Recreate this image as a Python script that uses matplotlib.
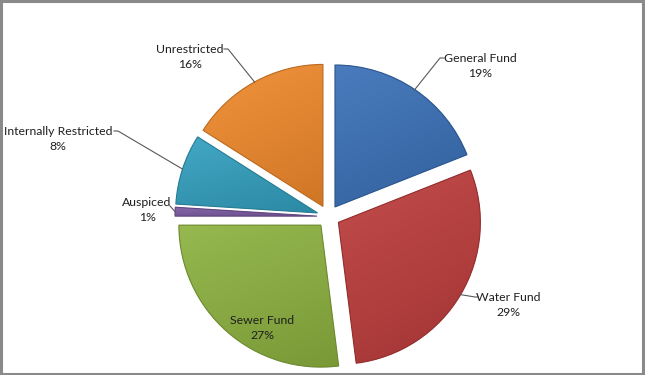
import numpy as np
import matplotlib
matplotlib.use("Agg")
import matplotlib.pyplot as plt
from matplotlib.colors import to_rgb
from matplotlib.patches import Rectangle, Wedge

categories = ["General Fund", "Water Fund", "Sewer Fund", "Auspiced",
              "Internally Restricted", "Unrestricted"]
values = [19, 29, 27, 1, 8, 16]
pct_labels = ["19%", "29%", "27%", "1%", "8%", "16%"]
colors = ["#3a70b7", "#bd3d3c", "#8db240", "#7c5ba3", "#33a0bf", "#f18a2c"]

plt.rcParams['font.family'] = ['Lato', 'DejaVu Sans']

W, H = 645, 375
fig = plt.figure(figsize=(W / 100, H / 100), dpi=100)
ax = fig.add_axes([0, 0, 1, 1])

cx, cy = 328.5, H - 216.5
R = 142
EXPL = 11.5
wedges, _ = ax.pie(values, colors=colors, startangle=90, counterclock=False,
                   explode=[EXPL] * len(values), radius=R, center=(cx, cy),
                   wedgeprops=dict(linewidth=0))
ax.set_xlim(0, W)
ax.set_ylim(0, H)
ax.set_aspect('equal')
ax.axis('off')


def mix(c, t, f):
    c = np.array(to_rgb(c))
    return np.clip(c * (1 - f) + np.array(t) * f, 0, 1)


inv = ax.transData.inverted()
for w, col in zip(wedges, colors):
    bb = w.get_path().get_extents(w.get_transform())
    (x0, y0), (x1, y1) = inv.transform([[bb.x0, bb.y0], [bb.x1, bb.y1]])
    n = 64
    gx, gy = np.meshgrid(np.linspace(0, 1, n), np.linspace(0, 1, n))
    t = (0.6 * gx + 1.4 * gy) / 2
    light = mix(col, (1, 1, 1), 0.08)
    dark = mix(col, (0, 0, 0), 0.14)
    img = light[None, None, :] * (1 - t[..., None]) + dark[None, None, :] * t[..., None]
    im = ax.imshow(img, extent=(x0, x1, y0, y1), origin='upper', zorder=1.5,
                   interpolation='bilinear')
    im.set_clip_path(w)
    w.set_zorder(1)
    e = Wedge(w.center, w.r, w.theta1, w.theta2, facecolor='none',
              edgecolor=mix(col, (0, 0, 0), 0.22), linewidth=0.8, zorder=2)
    ax.add_patch(e)

label_pos = {
    "General Fund": (480, 66),
    "Water Fund": (508, 305),
    "Sewer Fund": (262, 328),
    "Auspiced": (147, 210),
    "Internally Restricted": (58, 139),
    "Unrestricted": (190, 57),
}
leader_end = {
    "General Fund": (440, 58),
    "Water Fund": (475, 297),
    "Auspiced": (170, 206),
    "Internally Restricted": (118, 131),
    "Unrestricted": (228, 49),
}
hook = {
    "General Fund": 444,
    "Water Fund": 478,
    "Internally Restricted": 114,
    "Unrestricted": 224,
}

for w, cat, pct in zip(wedges, categories, pct_labels):
    mid = np.deg2rad((w.theta1 + w.theta2) / 2)
    ax_pt = (w.center[0] + w.r * np.cos(mid), w.center[1] + w.r * np.sin(mid))
    tx, ty = label_pos[cat]
    ax.text(tx, H - ty, f"{cat}\n{pct}", ha='center', va='center',
            fontsize=8.8, color='#1f1f1f', linespacing=1.55, zorder=5)
    if cat in leader_end:
        ex, ey = leader_end[cat]
        xs = [ax_pt[0], ex]
        ys = [ax_pt[1], H - ey]
        if cat in hook:
            xs.append(hook[cat])
            ys.append(H - ey)
        ax.plot(xs, ys, color='#595959', linewidth=0.8, zorder=4)

fig.patches.append(Rectangle((0.5 / W, 1.5 / H), 1 - 2.5 / W, 1 - 2.5 / H,
                             transform=fig.transFigure, fill=False,
                             edgecolor='#8a8a8a', linewidth=2.2))

fig.savefig("out.png", dpi=100, facecolor='white')
